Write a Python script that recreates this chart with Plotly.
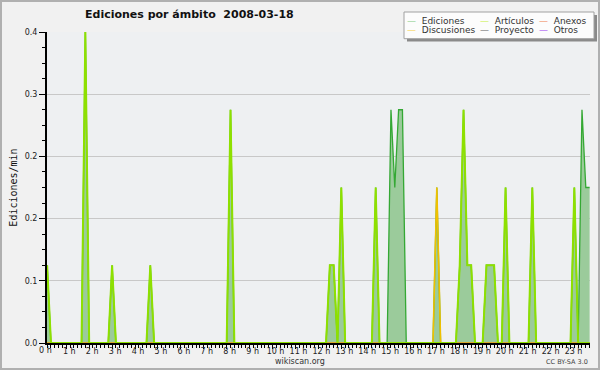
import plotly.graph_objects as go

# ---- data (10-minute bins, edits per minute) ----
bin_minutes = [10, 110, 180, 280, 490, 750, 760, 780, 870, 910, 920, 930, 940,
               1030, 1090, 1100, 1110, 1120, 1160, 1170, 1180, 1210, 1280,
               1390, 1410, 1420, 1430]
ediciones   = [0.1, 0.4, 0.1, 0.1, 0.3, 0.1, 0.1, 0.2, 0.2, 0.3, 0.2, 0.3, 0.3,
               0.2, 0.1, 0.3, 0.1, 0.1, 0.1, 0.1, 0.1, 0.2, 0.2,
               0.2, 0.3, 0.2, 0.2]
articulos   = [0.1, 0.4, 0.1, 0.1, 0.3, 0.1, 0.1, 0.2, 0.2, 0.0, 0.0, 0.0, 0.0,
               0.0, 0.1, 0.3, 0.1, 0.1, 0.1, 0.1, 0.1, 0.2, 0.2,
               0.2, 0.0, 0.0, 0.0]
discusiones = [0.0, 0.0, 0.0, 0.0, 0.0, 0.0, 0.0, 0.0, 0.0, 0.0, 0.0, 0.0, 0.0,
               0.2, 0.0, 0.0, 0.0, 0.0, 0.0, 0.0, 0.0, 0.0, 0.0,
               0.0, 0.0, 0.0, 0.0]
anexos   = [0.0] * len(bin_minutes)
proyecto = [0.0] * len(bin_minutes)
otros    = [0.0] * len(bin_minutes)

series_names  = ["Ediciones", "Artículos", "Anexos", "Discusiones", "Proyecto", "Otros"]
legend_colors = ["#80cc80", "#c8f040", "#f08050", "#f8d040", "#606060", "#a040f0"]

y_tickvals = [0, 0.08, 0.16, 0.24, 0.32, 0.4]
y_ticktext = ["0.0", "0.1", "0.2", "0.2", "0.3", "0.4"]
hours = list(range(0, 24))
hour_labels = [f"{h} h" for h in hours]

title_text = "Ediciones por ámbito&nbsp;&nbsp;2008-03-18"

# ---- build full 10-minute series ----
N_BINS = 144
t = [k / 6 for k in range(N_BINS)]
def full(vals):
    arr = [0.0] * N_BINS
    for m, v in zip(bin_minutes, vals):
        arr[m // 10] = v
    return arr

FONT = "DejaVu Sans, sans-serif"
W, H = 600, 370
ML, MR, MT, MB = 47, 10, 32, 27
PW, PH = W - ML - MR, H - MT - MB

def px(x):
    return (x - ML) / PW
def py(y):
    return (H - MB - y) / PH

fig = go.Figure()
fig.add_trace(go.Scatter(x=t, y=full(ediciones), mode="lines", fill="tozeroy",
                         fillcolor="#9bcb9b", line=dict(color="#34a834", width=1.3),
                         showlegend=False, hoverinfo="skip"))
for vals, col in [(anexos, "#f08050"), (proyecto, "#606060"), (otros, "#a040f0")]:
    fig.add_trace(go.Scatter(x=t, y=full(vals), mode="lines",
                             line=dict(color=col, width=1), showlegend=False))
fig.add_trace(go.Scatter(x=t, y=full(discusiones), mode="lines",
                         line=dict(color="#f0c000", width=1.6), showlegend=False))
fig.add_trace(go.Scatter(x=t, y=full(articulos), mode="lines",
                         line=dict(color="#8ee000", width=2), showlegend=False))

# legend entries (one small legend per entry, laid out as 3 columns x 2 rows)
leg_pos = [(407, 20), (480, 20), (539, 20), (407, 29.5), (480, 29.5), (539, 29.5)]
legends = {}
for i, (name, col) in enumerate(zip(series_names, legend_colors)):
    key = "legend" if i == 0 else f"legend{i+1}"
    fig.add_trace(go.Scatter(x=[None], y=[None], mode="markers",
                             marker=dict(color="rgba(0,0,0,0)", size=1),
                             name=f'<span style="color:{col}">—</span>\u00a0\u00a0{name}',
                             legend=key, showlegend=True))
    lx, ly = leg_pos[i]
    legends[key] = dict(x=px(lx - 40), y=py(ly), xanchor="left", yanchor="middle",
                        bgcolor="rgba(0,0,0,0)", borderwidth=0,
                        font=dict(family=FONT, size=9, color="#333"),
                        itemclick=False, itemdoubleclick=False)

shapes = [
    dict(type="rect", xref="paper", yref="paper", x0=px(407), x1=px(597), y0=py(41.5), y1=py(15),
         fillcolor="#8a8a8a", line=dict(width=0), layer="above"),
    dict(type="rect", xref="paper", yref="paper", x0=px(404), x1=px(594), y0=py(38.7), y1=py(12),
         fillcolor="#fcfcfc", line=dict(color="#a0a0a0", width=1), layer="above"),
    dict(type="rect", xref="paper", yref="paper", x0=px(1), x1=px(599), y0=py(369), y1=py(1),
         fillcolor="rgba(0,0,0,0)", line=dict(color="#b0b0b0", width=2), layer="above"),
]

annotations = [
    dict(text="0 h", xref="paper", yref="paper", x=px(45), y=py(350), xanchor="center",
         yanchor="middle", showarrow=False, font=dict(family=FONT, size=8, color="#222")),
    dict(text="wikiscan.org", xref="paper", yref="paper", x=px(300), y=py(361.5), xanchor="center",
         yanchor="middle", showarrow=False, font=dict(family=FONT, size=8, color="#333")),
    dict(text="CC BY-SA 3.0", xref="paper", yref="paper", x=px(590), y=py(362), xanchor="right",
         yanchor="middle", showarrow=False, font=dict(family=FONT, size=6.5, color="#444")),
]

layout = dict(
    width=W, height=H,
    margin=dict(l=ML, r=MR, t=MT, b=MB, autoexpand=False),
    paper_bgcolor="#f1f1f1", plot_bgcolor="#eef0f2",
    title=dict(text=title_text, x=85 / W, xanchor="left", y=1 - 14 / H, yanchor="middle",
               font=dict(family=FONT, size=11, color="#111", weight="bold")),
    xaxis=dict(range=[0.16, 23.85], tickmode="array", tickvals=hours[1:], ticktext=hour_labels[1:],
               ticks="outside", ticklen=4, tickwidth=1, tickcolor="black",
               minor=dict(dtick=1 / 6, tick0=0, ticks="outside", ticklen=3, tickcolor="black", showgrid=False),
               showline=True, linecolor="black", linewidth=2, showgrid=False, zeroline=False,
               ticklabelshift=3, ticklabelstandoff=-5,
               tickfont=dict(family=FONT, size=8, color="#222"), automargin=False),
    yaxis=dict(range=[0, 0.4], tickmode="array", tickvals=y_tickvals, ticktext=y_ticktext,
               ticks="outside", ticklen=6, tickwidth=1, tickcolor="black",
               minor=dict(dtick=0.02, tick0=0, ticks="outside", ticklen=3, tickcolor="black", showgrid=False),
               showline=True, linecolor="black", linewidth=2, showgrid=True, gridcolor="#c8c8c8",
               zeroline=False, tickfont=dict(family=FONT, size=8, color="#222"), automargin=False,
               title=dict(text="Ediciones/min", standoff=5,
                          font=dict(family="DejaVu Sans Mono, monospace", size=10, color="#111"))),
    shapes=shapes, annotations=annotations,
    showlegend=True,
)
layout.update(legends)
fig.update_layout(**layout)
fig.write_html("out.html", config={"displayModeBar": False},
               post_script="document.body.style.margin='0';")
